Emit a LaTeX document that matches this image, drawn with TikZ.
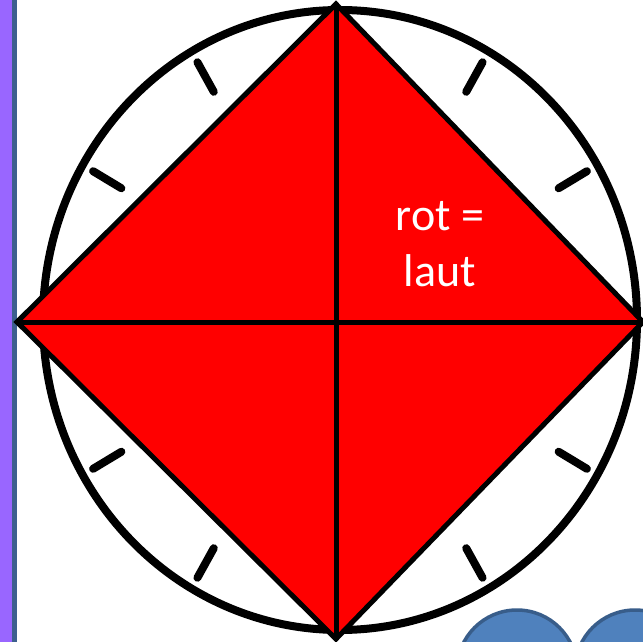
\documentclass[tikz,border=0pt]{standalone}
\usepackage{fontspec}
\setmainfont{Carlito}
\definecolor{barpurple}{HTML}{9966FF}
\definecolor{barblue}{HTML}{3D5F8F}
\definecolor{shapefill}{HTML}{4F81BD}
\definecolor{shapeline}{HTML}{385D8A}
\tikzset{
  rim/.style={draw=black, line width=8pt},
  tickmark/.style={draw=black, line width=8pt, line cap=round},
  diamondedge/.style={draw=black, line width=5pt, line join=miter},
  crossline/.style={draw=black, line width=5pt},
  label/.style={text=white, font=\fontsize{46}{56}\selectfont, inner sep=0pt},
  blob/.style={fill=shapefill, draw=shapeline, line width=3.5pt}
}
\begin{document}
\begin{tikzpicture}[x=1pt, y=-1pt]
\useasboundingbox (0,0) rectangle (643,642);
\clip (0,0) rectangle (643,642);
\fill[white] (0,0) rectangle (643,642);
% left bars
\fill[barpurple] (0,0) rectangle (12,642);
\fill[barblue] (12,0) rectangle (17,642);
% clock rim
\draw[rim] (340,320) ellipse [x radius=297, y radius=-310];
\foreach \a in {30,60,120,150,210,240,300,330}
  \draw[tickmark] ({340+297*0.85*cos(\a)},{320-310*0.85*sin(\a)}) -- ({340+297*0.96*cos(\a)},{320-310*0.96*sin(\a)});
% diamond
\coordinate (top) at (336,4);
\coordinate (bottom) at (336,639);
\coordinate (left) at (17,322);
\coordinate (right) at (643,322);
\coordinate (mid) at (336,322);
\fill[red] (top) -- (right) -- (bottom) -- (left) -- cycle;
\draw[crossline] (top) -- (bottom);
\draw[crossline] (left) -- (right);
\draw[diamondedge] (top) -- (right) -- (bottom) -- (left) -- cycle;
% label
\node[label, anchor=base] (rotline) at (440,230) {rot =};
\node[label, anchor=base] (lautline) at (440,286) {laut};
% blue shapes
\draw[blob] (517,670) circle [radius=60];
\draw[blob] (635,670) circle [radius=60];
\end{tikzpicture}
\end{document}
